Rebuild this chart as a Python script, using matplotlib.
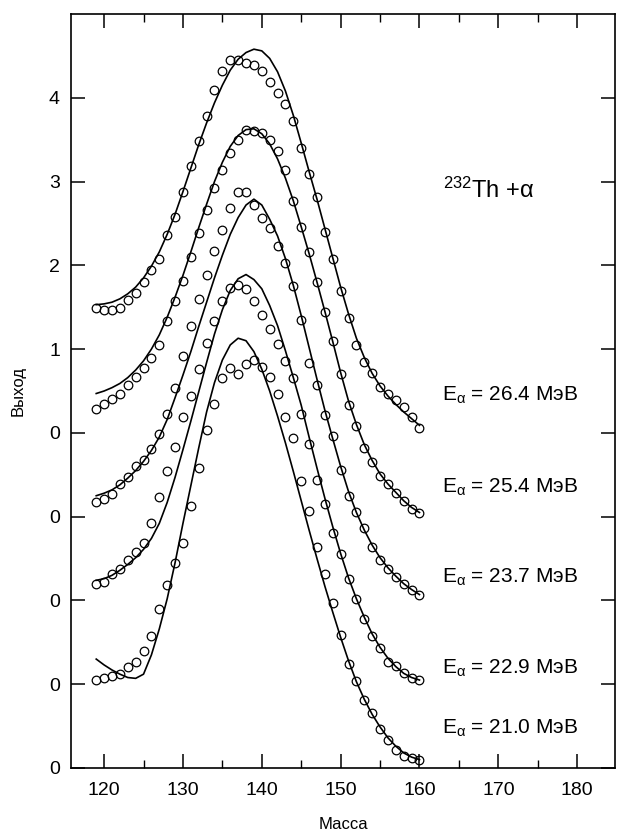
import numpy as np
import matplotlib
matplotlib.use("Agg")
import matplotlib.pyplot as plt

plt.rcParams['font.family'] = ['Liberation Sans', 'DejaVu Sans']
plt.rcParams['mathtext.fontset'] = 'custom'
plt.rcParams['mathtext.rm'] = 'Liberation Sans'
plt.rcParams['mathtext.it'] = 'Liberation Sans'

# mass numbers of the fragments
mass = np.arange(119, 161)

# measured yields (circles), one list per alpha energy
exp_264 = [1.49, 1.47, 1.47, 1.49, 1.59, 1.67, 1.80, 1.95, 2.07, 2.36, 2.58, 2.87, 3.18, 3.48,
           3.78, 4.09, 4.32, 4.45, 4.45, 4.42, 4.39, 4.32, 4.19, 4.06, 3.92, 3.72, 3.40, 3.09,
           2.81, 2.40, 2.08, 1.69, 1.37, 1.05, 0.85, 0.71, 0.55, 0.47, 0.39, 0.31, 0.19, 0.06]
exp_254 = [1.28, 1.35, 1.41, 1.47, 1.57, 1.67, 1.78, 1.89, 2.05, 2.33, 2.57, 2.81, 3.10, 3.38,
           3.66, 3.92, 4.14, 4.34, 4.50, 4.61, 4.60, 4.58, 4.50, 4.37, 4.14, 3.77, 3.46, 3.16,
           2.80, 2.44, 2.10, 1.70, 1.33, 1.08, 0.82, 0.65, 0.48, 0.39, 0.28, 0.19, 0.09, 0.04]
exp_237 = [1.17, 1.21, 1.27, 1.39, 1.47, 1.61, 1.68, 1.81, 1.99, 2.23, 2.54, 2.92, 3.28, 3.60,
           3.89, 4.17, 4.42, 4.68, 4.87, 4.87, 4.72, 4.56, 4.44, 4.23, 4.03, 3.75, 3.35, 2.84,
           2.57, 2.21, 1.96, 1.56, 1.25, 1.05, 0.87, 0.64, 0.48, 0.37, 0.28, 0.20, 0.12, 0.06]
exp_229 = [1.20, 1.22, 1.31, 1.38, 1.48, 1.58, 1.69, 1.92, 2.24, 2.55, 2.83, 3.19, 3.44, 3.76,
           4.07, 4.33, 4.58, 4.73, 4.77, 4.72, 4.57, 4.41, 4.24, 4.06, 3.86, 3.66, 3.23, 2.87,
           2.44, 2.15, 1.81, 1.55, 1.26, 1.02, 0.78, 0.58, 0.43, 0.27, 0.22, 0.13, 0.07, 0.05]
exp_210 = [1.05, 1.07, 1.10, 1.12, 1.20, 1.27, 1.40, 1.58, 1.90, 2.18, 2.45, 2.68, 3.13, 3.58,
           4.04, 4.34, 4.65, 4.77, 4.70, 4.82, 4.87, 4.79, 4.67, 4.47, 4.19, 3.94, 3.42, 3.07,
           2.64, 2.31, 1.97, 1.59, 1.24, 1.04, 0.81, 0.66, 0.47, 0.33, 0.22, 0.14, 0.12, 0.10]

# calculated yields (solid lines)
calc_264 = [1.53, 1.54, 1.56, 1.60, 1.66, 1.74, 1.85, 1.99, 2.16, 2.37, 2.61, 2.88, 3.16, 3.44,
            3.70, 3.94, 4.15, 4.33, 4.46, 4.54, 4.58, 4.56, 4.47, 4.31, 4.08, 3.79, 3.46, 3.12,
            2.79, 2.44, 2.09, 1.74, 1.42, 1.13, 0.90, 0.71, 0.56, 0.44, 0.34, 0.25, 0.17, 0.09]
calc_254 = [1.47, 1.50, 1.54, 1.59, 1.66, 1.75, 1.86, 2.00, 2.17, 2.38, 2.62, 2.88, 3.16, 3.45,
            3.73, 4.00, 4.23, 4.42, 4.55, 4.62, 4.63, 4.57, 4.45, 4.27, 4.04, 3.77, 3.46, 3.14,
            2.80, 2.45, 2.09, 1.72, 1.38, 1.10, 0.86, 0.67, 0.51, 0.39, 0.29, 0.19, 0.11, 0.05]
calc_237 = [1.25, 1.28, 1.32, 1.38, 1.46, 1.55, 1.66, 1.79, 1.95, 2.16, 2.42, 2.69, 2.97, 3.27,
            3.56, 3.85, 4.12, 4.37, 4.57, 4.72, 4.79, 4.72, 4.55, 4.35, 4.08, 3.76, 3.40, 3.02,
            2.64, 2.27, 1.93, 1.60, 1.30, 1.05, 0.84, 0.66, 0.51, 0.39, 0.29, 0.20, 0.13, 0.07]
calc_229 = [1.24, 1.26, 1.30, 1.36, 1.43, 1.51, 1.61, 1.74, 1.92, 2.17, 2.47, 2.80, 3.14, 3.49,
            3.84, 4.18, 4.47, 4.70, 4.84, 4.89, 4.83, 4.72, 4.52, 4.28, 3.98, 3.66, 3.33, 2.95,
            2.58, 2.22, 1.88, 1.56, 1.27, 1.02, 0.80, 0.60, 0.44, 0.31, 0.21, 0.13, 0.08, 0.05]
calc_210 = [1.30, 1.23, 1.17, 1.12, 1.08, 1.07, 1.12, 1.35, 1.66, 2.02, 2.45, 2.92, 3.37, 3.82,
            4.25, 4.60, 4.87, 5.05, 5.13, 5.10, 4.97, 4.76, 4.50, 4.20, 3.88, 3.54, 3.19, 2.84,
            2.50, 2.17, 1.86, 1.56, 1.28, 1.03, 0.82, 0.64, 0.49, 0.36, 0.26, 0.18, 0.13, 0.10]

energies = ["26.4", "25.4", "23.7", "22.9", "21.0"]
offsets = [4, 3, 2, 1, 0]
exp_sets = [exp_264, exp_254, exp_237, exp_229, exp_210]
calc_sets = [calc_264, calc_254, calc_237, calc_229, calc_210]
label_y = [4.39, 3.29, 2.21, 1.12, 0.41]

ytick_pos = [0, 1, 2, 3, 4, 5, 6, 7, 8]
ytick_lab = ['0', '0', '0', '0', '0', '1', '2', '3', '4']

fig = plt.figure(figsize=(6.21, 8.33), dpi=100)
ax = fig.add_axes([71/621, 1 - 768/833, (615 - 71)/621, (768 - 14)/833])

for e, off, y_exp, y_calc in zip(energies, offsets, exp_sets, calc_sets):
    ax.plot(mass, np.array(y_calc) + off, color='black', lw=1.2)
    ax.plot(mass, np.array(y_exp) + off, linestyle='none', marker='o', ms=6.2,
            mfc='none', mec='black', mew=0.9)

for e, yl in zip(energies, label_y):
    ax.text(162.8, yl, "E$_\\mathregular{α}$ = " + e + " МэВ", fontsize=15,
            ha='left', va='baseline')

ax.text(163.0, 6.81, "$^\\mathregular{232}$Th +α", fontsize=17, ha='left', va='baseline')

ax.set_xlim(115.8, 184.8)
ax.set_ylim(0, 9)
ax.set_xticks([120, 130, 140, 150, 160, 170, 180])
ax.set_xticks(np.arange(125, 185, 10), minor=True)
ax.set_yticks(ytick_pos)
ax.set_yticklabels(ytick_lab)

ax.tick_params(axis='both', which='major', direction='in', length=10, width=1.1,
               top=True, right=True, labelsize=14)
ax.tick_params(axis='x', which='major', pad=10)
ax.tick_params(axis='y', which='major', pad=8)
ax.tick_params(axis='x', which='minor', direction='in', length=6, width=1.0, top=True)
for s in ax.spines.values():
    s.set_linewidth(1.2)

ax.set_xlabel("Масса", fontsize=12, labelpad=13)
ax.set_ylabel("Выход", fontsize=12, labelpad=17)

fig.savefig("out.png", dpi=100)
